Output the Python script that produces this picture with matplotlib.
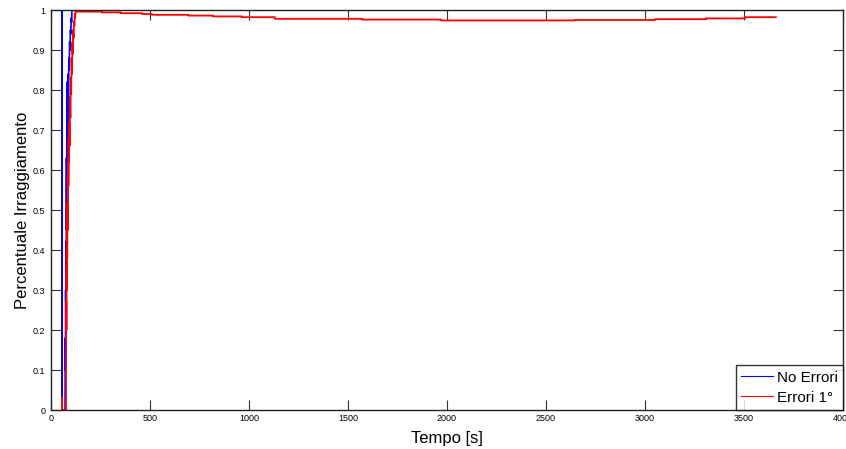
import numpy as np
import matplotlib
matplotlib.use("Agg")
import matplotlib.pyplot as plt

plt.rcParams['font.family'] = ['Liberation Sans', 'DejaVu Sans']

# --- "No Errori": irradiation fraction vs time ---
t_no_err = [56, 56, 56, 71, 72, 73, 74, 75, 76, 77, 78, 79, 80, 81, 82, 84,
            85, 87, 88, 90, 92, 94, 96, 98, 100, 102, 104, 106, 108, 3650]
v_no_err = [0, 1, 0, 0, 0.18, 0.1, 0.3, 0.22, 0.42, 0.35, 0.63, 0.45, 0.6,
            0.82, 0.55, 0.76, 0.68, 0.84, 0.78, 0.88, 0.85, 0.92, 0.9, 0.95,
            0.94, 0.98, 0.97, 1.0, 1.0, 1.0]

# --- "Errori 1°": initial rise ---
t_err_rise = [56, 56, 56, 76, 76, 77, 78, 79, 80, 81, 82, 83, 84, 85, 86, 87,
              88, 89, 90, 92, 94, 96, 98, 100, 102, 104, 106, 108, 110, 112,
              114, 116, 118, 120, 122, 124, 126]
v_err_rise = [0, 0.03, 0, 0, 0.13, 0.27, 0.2, 0.4, 0.3, 0.46, 0.38, 0.52,
              0.45, 0.58, 0.5, 0.62, 0.56, 0.68, 0.62, 0.72, 0.66, 0.78, 0.73,
              0.83, 0.79, 0.88, 0.84, 0.92, 0.89, 0.95, 0.93, 0.97, 0.96,
              0.99, 0.98, 1.0, 1.0]

# --- "Errori 1°": slow drift afterwards (piecewise constant levels) ---
t_err_steps = [131, 258, 354, 460, 510, 692, 818, 965, 1131, 1571, 1970,
               2646, 3050, 3308, 3505]
t_err_end = 3661
v_err_steps = [0.996, 0.994, 0.992, 0.990, 0.988, 0.986, 0.984, 0.982,
               0.978, 0.976, 0.974, 0.975, 0.977, 0.979, 0.982]

x_ticks = [0, 500, 1000, 1500, 2000, 2500, 3000, 3500, 4000]
y_ticks = [0, 0.1, 0.2, 0.3, 0.4, 0.5, 0.6, 0.7, 0.8, 0.9, 1]

# build the step part of the second series
edges = list(t_err_steps) + [t_err_end]
t_steps = []
v_steps = []
for i, lvl in enumerate(v_err_steps):
    t_steps += [edges[i], edges[i + 1]]
    v_steps += [lvl, lvl]
t_err = list(t_err_rise) + t_steps
v_err = list(v_err_rise) + v_steps

fig = plt.figure(figsize=(8.46, 4.49), dpi=100)
ax = fig.add_axes([51 / 846, 1 - 410 / 449, 792 / 846, 400 / 449])

ax.plot(t_no_err, v_no_err, color=(0, 0, 1), lw=1.2, label='No Errori')
ax.plot(t_err, v_err, color=(1, 0, 0), lw=1.3, label='Errori 1°')

ax.set_xlim(0, 4000)
ax.set_ylim(0, 1)
ax.set_xticks(x_ticks)
ax.set_yticks(y_ticks)
ax.set_xticklabels([f'{v:g}' for v in x_ticks])
ax.set_yticklabels([f'{v:g}' for v in y_ticks])

ax.tick_params(direction='in', length=7, width=0.8, labelsize=6.5,
               top=True, right=True, colors='#333333', labelcolor='black')
ax.tick_params(axis='x', pad=3)
ax.tick_params(axis='y', pad=4)
for s in ax.spines.values():
    s.set_linewidth(1.0)
    s.set_color('#222222')

ax.set_xlabel('Tempo [s]', fontsize=12, labelpad=6)
ax.set_ylabel('Percentuale Irraggiamento', fontsize=12, labelpad=2)

leg = ax.legend(loc='lower right', fontsize=11, frameon=True, fancybox=False,
                borderaxespad=0.0, handlelength=2.1, handletextpad=0.25,
                borderpad=0.35, labelspacing=0.4)
leg.get_frame().set_edgecolor('black')
leg.get_frame().set_linewidth(1.0)
for line in leg.get_lines():
    line.set_linewidth(0.8)

fig.savefig('out.png', dpi=100)
